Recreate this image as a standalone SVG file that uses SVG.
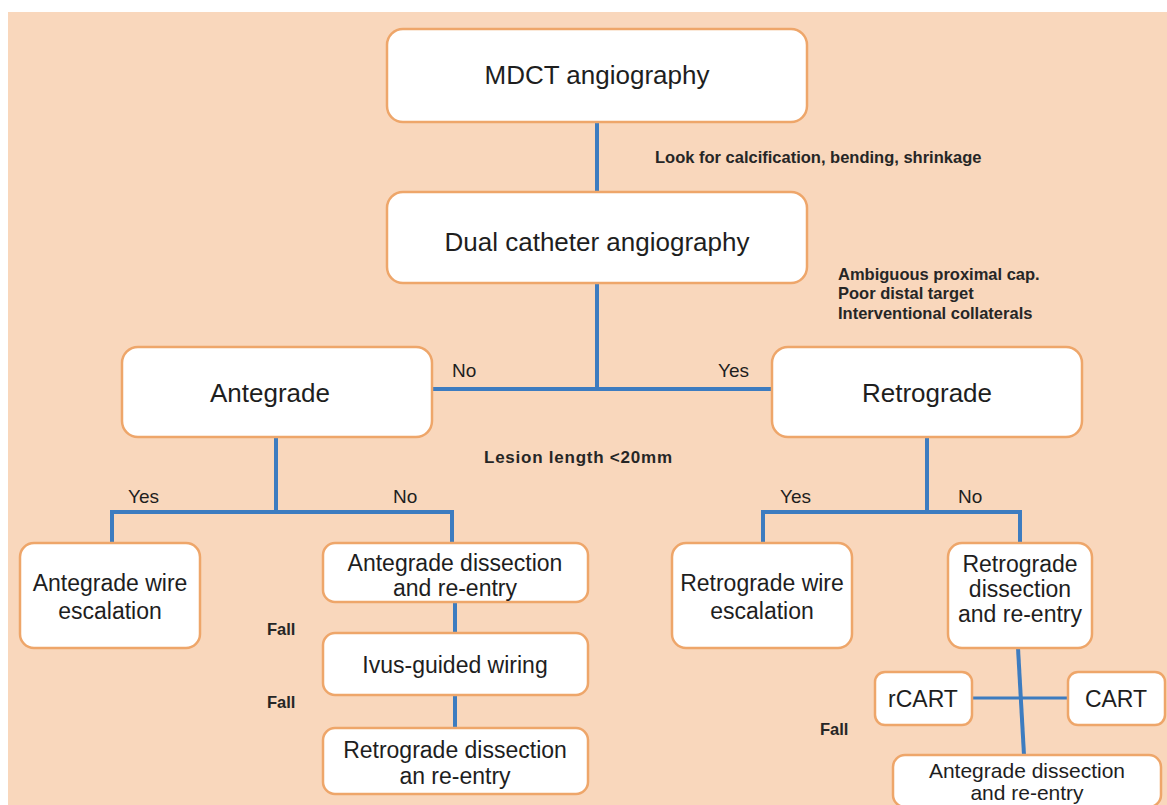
<svg xmlns="http://www.w3.org/2000/svg" width="1167" height="805" viewBox="0 0 1167 805">
<style>
.bg{fill:#f9d7bc}
.box{fill:#ffffff;stroke:#eea66a;stroke-width:2.5}
.ln{stroke:#3d7cc0;stroke-width:4;fill:none;stroke-linecap:butt}
.t{font-family:"Liberation Sans",Arial,sans-serif;fill:#1e1e1e;text-anchor:middle}
.big{font-size:26px}
.mid{font-size:23px}
.lab{font-family:"Liberation Sans",Arial,sans-serif;fill:#1e1e1e;font-size:19px}
.sm{font-family:"Liberation Sans",Arial,sans-serif;fill:#262626;font-size:16.5px;font-weight:bold}
</style>
<rect width="1167" height="805" fill="#ffffff"/>
<rect class="bg" x="8" y="12" width="1159" height="793"/>

<g id="connectors">
<line class="ln" x1="597" y1="122" x2="597" y2="192"/>
<line class="ln" x1="597" y1="283" x2="597" y2="389"/>
<line class="ln" x1="432" y1="389" x2="772" y2="389"/>
<polyline class="ln" points="112,543 112,512 452,512 452,543"/>
<line class="ln" x1="276" y1="437" x2="276" y2="512"/>
<line class="ln" x1="455" y1="602" x2="455" y2="633"/>
<line class="ln" x1="455" y1="695" x2="455" y2="728"/>
<line class="ln" x1="927" y1="437" x2="927" y2="512"/>
<polyline class="ln" points="763,543 763,512 1020,512 1020,543"/>
<line class="ln" x1="1018" y1="648" x2="1024" y2="755"/>
<line class="ln" x1="972" y1="698" x2="1068" y2="698" style="stroke-width:3"/>
</g>

<g id="n-mdct"><rect class="box" x="387" y="29" width="420" height="93" rx="16"/><text class="t big" x="597" y="84">MDCT angiography</text></g>
<g id="n-dual"><rect class="box" x="387" y="192" width="420" height="91" rx="16"/><text class="t big" x="597" y="251">Dual catheter angiography</text></g>
<g id="n-ante"><rect class="box" x="122" y="347" width="310" height="90" rx="16"/><text class="t big" x="270" y="402">Antegrade</text></g>
<g id="n-retro"><rect class="box" x="772" y="347" width="310" height="90" rx="16"/><text class="t big" x="927" y="402">Retrograde</text></g>
<g id="n-awe"><rect class="box" x="20" y="543" width="180" height="105" rx="14"/><text class="t mid" x="110" y="591">Antegrade wire</text><text class="t mid" x="110" y="619">escalation</text></g>
<g id="n-adr"><rect class="box" x="323" y="543" width="265" height="59" rx="12"/><text class="t mid" x="455" y="571">Antegrade dissection</text><text class="t mid" x="455" y="596">and re-entry</text></g>
<g id="n-ivus"><rect class="box" x="323" y="633" width="265" height="62" rx="12"/><text class="t mid" x="455" y="673">Ivus-guided wiring</text></g>
<g id="n-rdr"><rect class="box" x="323" y="728" width="265" height="66" rx="12"/><text class="t mid" x="455" y="758">Retrograde dissection</text><text class="t mid" x="455" y="784">an re-entry</text></g>
<g id="n-rwe"><rect class="box" x="672" y="543" width="180" height="105" rx="14"/><text class="t mid" x="762" y="591">Retrograde wire</text><text class="t mid" x="762" y="619">escalation</text></g>
<g id="n-rdr2"><rect class="box" x="948" y="543" width="144" height="105" rx="14"/><text class="t mid" x="1020" y="572">Retrograde</text><text class="t mid" x="1020" y="597">dissection</text><text class="t mid" x="1020" y="622">and re-entry</text></g>
<g id="n-rcart"><rect class="box" x="875" y="672" width="97" height="53" rx="10"/><text class="t mid" x="923" y="707">rCART</text></g>
<g id="n-cart"><rect class="box" x="1068" y="672" width="97" height="53" rx="10"/><text class="t mid" x="1116" y="707">CART</text></g>
<g id="n-adr2"><rect class="box" x="893" y="755" width="268" height="52" rx="12"/><text class="t" style="font-size:21px" x="1027" y="778">Antegrade dissection</text><text class="t" style="font-size:21px" x="1027" y="800">and re-entry</text></g>

<g id="labels">
<text class="sm" x="655" y="163">Look for calcification, bending, shrinkage</text>
<text class="sm" x="838" y="280">Ambiguous proximal cap.</text>
<text class="sm" x="838" y="299">Poor distal target</text>
<text class="sm" x="838" y="319">Interventional collaterals</text>
<text class="lab" x="452" y="377">No</text>
<text class="lab" x="718" y="377">Yes</text>
<text class="sm" x="484" y="463" style="font-size:17px" textLength="188" lengthAdjust="spacing">Lesion length &lt;20mm</text>
<text class="lab" x="128" y="503">Yes</text>
<text class="lab" x="393" y="503">No</text>
<text class="lab" x="780" y="503">Yes</text>
<text class="lab" x="958" y="503">No</text>
<text class="sm" x="267" y="635">Fall</text>
<text class="sm" x="267" y="708">Fall</text>
<text class="sm" x="820" y="735">Fall</text>
</g>
</svg>
